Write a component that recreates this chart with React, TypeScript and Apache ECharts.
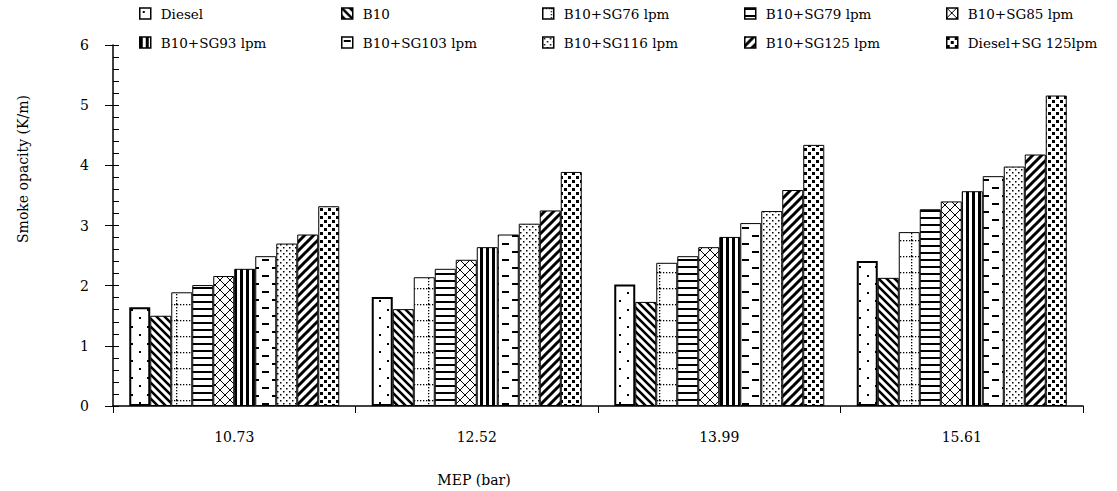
import React, { useEffect, useRef } from "react";
import * as echarts from "echarts";

const categories = ["10.73", "12.52", "13.99", "15.61"];
const seriesNames = [
  "Diesel",
  "B10",
  "B10+SG76 lpm",
  "B10+SG79 lpm",
  "B10+SG85 lpm",
  "B10+SG93 lpm",
  "B10+SG103 lpm",
  "B10+SG116 lpm",
  "B10+SG125 lpm",
  "Diesel+SG 125lpm",
];
const diesel = [1.64, 1.81, 2.02, 2.41];
const b10 = [1.5, 1.61, 1.73, 2.13];
const sg76 = [1.89, 2.14, 2.38, 2.89];
const sg79 = [2.01, 2.28, 2.49, 3.27];
const sg85 = [2.16, 2.43, 2.64, 3.4];
const sg93 = [2.28, 2.64, 2.81, 3.57];
const sg103 = [2.49, 2.85, 3.04, 3.82];
const sg116 = [2.7, 3.03, 3.24, 3.98];
const sg125 = [2.85, 3.25, 3.59, 4.18];
const dieselSg = [3.32, 3.89, 4.34, 5.16];
const seriesValues = [diesel, b10, sg76, sg79, sg85, sg93, sg103, sg116, sg125, dieselSg];
const yMin = 0;
const yMax = 6;
const yStep = 1;

const FONT = "'DejaVu Serif', serif";

type Draw = (ctx: CanvasRenderingContext2D, w: number, h: number) => void;

function tile(w: number, h: number, draw: Draw) {
  const c = document.createElement("canvas");
  c.width = w;
  c.height = h;
  const ctx = c.getContext("2d")!;
  ctx.fillStyle = "#fff";
  ctx.fillRect(0, 0, w, h);
  ctx.fillStyle = "#000";
  ctx.strokeStyle = "#000";
  draw(ctx, w, h);
  return { image: c.toDataURL(), repeat: "repeat", imageWidth: w, imageHeight: h };
}

function diag(ctx: CanvasRenderingContext2D, w: number, h: number, lw: number, back: boolean) {
  ctx.lineWidth = lw;
  ctx.beginPath();
  for (let k = -1; k <= 1; k++) {
    if (back) {
      ctx.moveTo(k * w - 2, -2);
      ctx.lineTo(k * w + w + 2, h + 2);
    } else {
      ctx.moveTo(k * w - 2, h + 2);
      ctx.lineTo(k * w + w + 2, -2);
    }
  }
  ctx.stroke();
}

function makePatterns() {
  return [
    // Diesel: sparse staggered dots
    tile(16, 17, (ctx) => {
      ctx.fillRect(3, 3, 2, 2);
      ctx.fillRect(11, 11, 2, 2);
    }),
    // B10: thick back diagonal
    tile(8, 8, (ctx, w, h) => diag(ctx, w, h, 2.6, true)),
    // SG76: dotted grid
    tile(21, 16, (ctx) => {
      for (let x = 0; x < 21; x += 3) ctx.fillRect(x, 0, 1.3, 1.3);
      for (let y = 0; y < 16; y += 3) ctx.fillRect(8, y, 1.3, 1.3);
    }),
    // SG79: horizontal lines
    tile(4, 7, (ctx) => {
      ctx.fillRect(0, 0, 4, 2);
    }),
    // SG85: crosshatch
    tile(10, 10, (ctx, w, h) => {
      diag(ctx, w, h, 1, true);
      diag(ctx, w, h, 1, false);
    }),
    // SG93: vertical stripes
    tile(6, 4, (ctx) => {
      ctx.fillRect(0, 0, 3, 4);
    }),
    // SG103: staggered dashes
    tile(20, 16, (ctx) => {
      ctx.fillRect(2, 3, 7, 2);
      ctx.fillRect(12, 11, 7, 2);
    }),
    // SG116: dense dots
    tile(6, 6, (ctx) => {
      ctx.fillRect(1, 1, 1.5, 1.5);
      ctx.fillRect(4, 4, 1.5, 1.5);
    }),
    // SG125: thick forward diagonal
    tile(9, 9, (ctx, w, h) => diag(ctx, w, h, 3, false)),
    // Diesel+SG: checker squares
    tile(8, 8, (ctx) => {
      ctx.fillRect(0, 0, 3, 3);
      ctx.fillRect(4, 4, 3, 3);
    }),
  ];
}

export default function App() {
  const ref = useRef<HTMLDivElement>(null);
  useEffect(() => {
    document.body.style.margin = "0";
    if (!ref.current) return;
    const chart = echarts.init(ref.current, null, { renderer: "svg" });
    const patterns = makePatterns();

    const legendLefts = [139, 341, 542, 744, 946];
    const legends = legendLefts.map((left, i) => ({
      left,
      top: 6,
      padding: 0,
      orient: "vertical",
      itemWidth: 11,
      itemHeight: 11,
      itemGap: 14,
      icon: "rect",
      selectedMode: false,
      data: [seriesNames[i], seriesNames[i + 5]],
      itemStyle: { borderColor: "#000", borderWidth: 1.5 },
      textStyle: {
        fontFamily: FONT,
        fontSize: 13.5,
        color: "#000",
        lineHeight: 15,
        padding: [0, 0, 0, 5],
      },
    }));

    const series = seriesNames.map((name, i) => ({
      name,
      type: "bar",
      yAxisIndex: 0,
      data: seriesValues[i],
      barWidth: 21,
      barGap: "0%",
      itemStyle: {
        color: patterns[i],
        borderColor: "#000",
        borderWidth: i === 0 ? 2 : 1,
      },
    }));

    chart.setOption({
      animation: false,
      backgroundColor: "#fff",
      legend: legends,
      grid: { left: 113, right: 34, top: 45, bottom: 85, containLabel: false },
      xAxis: {
        type: "category",
        data: categories,
        axisLine: { lineStyle: { color: "#000", width: 1.5 } },
        axisTick: { show: true, length: 7, lineStyle: { color: "#000", width: 1 } },
        axisLabel: { fontFamily: FONT, fontSize: 14, color: "#000", margin: 24 },
        splitLine: { show: false },
      },
      yAxis: [
        {
          type: "value",
          position: "left",
          min: yMin,
          max: yMax,
          interval: yStep,
          axisLine: { show: true, lineStyle: { color: "#000", width: 1.5 } },
          axisTick: { show: true, length: 8, lineStyle: { color: "#000", width: 1 } },
          axisLabel: { fontFamily: FONT, fontSize: 14, color: "#000", margin: 24 },
          splitLine: { show: false },
        },
        {
          type: "value",
          position: "left",
          min: yMin,
          max: yMax,
          interval: yStep,
          axisLine: { show: false },
          axisLabel: { show: false },
          axisTick: { show: true, inside: true, length: 6, lineStyle: { color: "#000", width: 1 } },
          minorTick: { show: true, splitNumber: 5, length: 6, lineStyle: { color: "#000", width: 1 } },
          splitLine: { show: false },
        },
      ],
      graphic: [
        {
          type: "text",
          x: 474,
          y: 480,
          style: {
            text: "MEP (bar)",
            font: `14px ${FONT}`,
            fill: "#000",
            align: "center",
            verticalAlign: "middle",
          },
        },
        {
          type: "text",
          x: 23,
          y: 169,
          rotation: Math.PI / 2,
          style: {
            text: "Smoke opacity (K/m)",
            font: `14px ${FONT}`,
            fill: "#000",
            align: "center",
            verticalAlign: "middle",
          },
        },
      ],
      series,
    });
    return () => chart.dispose();
  }, []);
  return <div ref={ref} style={{ width: 1117, height: 491 }} />;
}
